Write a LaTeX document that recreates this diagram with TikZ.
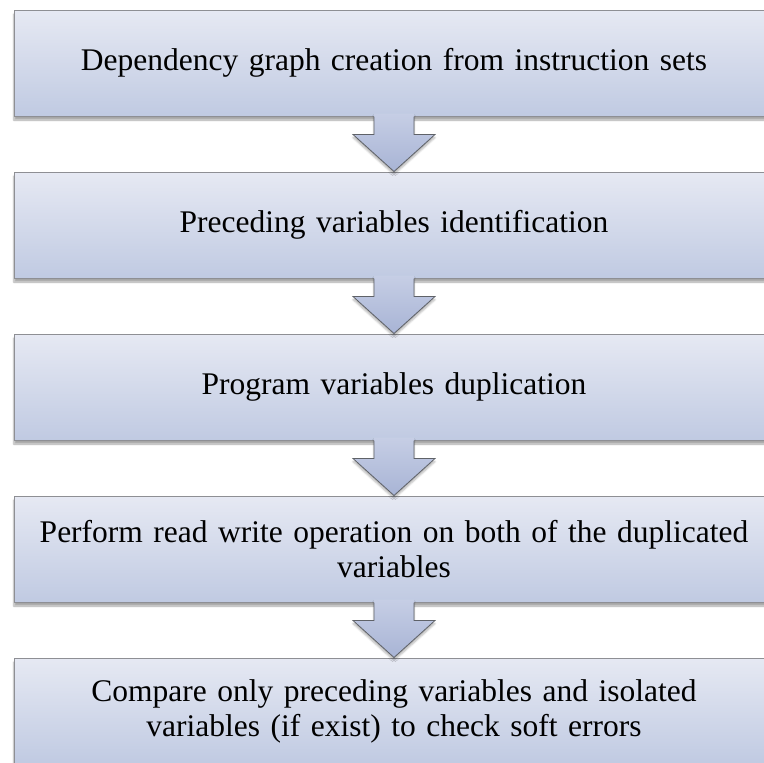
\documentclass[tikz,border=0pt]{standalone}
\usepackage{fontspec}
\setmainfont[WordSpace=0.8]{Liberation Serif}
\usetikzlibrary{calc,shadows.blur}

\definecolor{boxtop}{HTML}{E6E9F3}
\definecolor{boxbottom}{HTML}{C0CAE2}
\definecolor{boxline}{HTML}{8E8F94}
\definecolor{arrowtop}{HTML}{C6CEE5}
\definecolor{arrowbottom}{HTML}{A8B4D5}
\definecolor{arrowline}{HTML}{5F6268}

\tikzset{
  stepbox/.style={
    rectangle, draw=boxline, line width=1pt,
    top color=boxtop, bottom color=boxbottom,
    minimum width=760pt, minimum height=106pt,
    align=center, text width=745pt,
    font=\fontsize{31.5pt}{35pt}\selectfont,
    blur shadow={shadow xshift=0pt, shadow yshift=-4pt,
                 shadow blur steps=6, shadow opacity=35}
  },
  arrowbody/.style={top color=arrowtop, bottom color=arrowbottom},
  arrowedge/.style={draw=arrowline, line width=0.8pt, line join=miter}
}

% block arrow from the bottom of box #1 to the top of box #2
\newcommand{\flowarrow}[2]{%
  \shade[arrowbody, blur shadow={shadow xshift=0pt, shadow yshift=-3pt,
        shadow blur steps=5, shadow opacity=30}]
    ($(#1.south)+(-20,-3)$) -- ($(#1.south)+(-20,18)$)
    -- ($(#1.south)+(-41,18)$) -- (#2.north)
    -- ($(#1.south)+(41,18)$) -- ($(#1.south)+(20,18)$)
    -- ($(#1.south)+(20,-3)$) -- cycle;
  \draw[arrowedge]
    ($(#1.south)+(-20,0)$) -- ($(#1.south)+(-20,18)$)
    -- ($(#1.south)+(-41,18)$) -- (#2.north)
    -- ($(#1.south)+(41,18)$) -- ($(#1.south)+(20,18)$)
    -- ($(#1.south)+(20,0)$);
}

\begin{document}
\begin{tikzpicture}[x=1pt,y=-1pt]
  \useasboundingbox (0,0) rectangle (764,763);
  \clip (0,0) rectangle (764,763);

  \node[stepbox] (b1) at (394,63)
    {Dependency graph creation from instruction sets};
  \node[stepbox] (b2) at (394,225)
    {Preceding variables identification};
  \node[stepbox] (b3) at (394,387)
    {Program variables duplication};
  \node[stepbox] (b4) at (394,549)
    {Perform read write operation on both of the duplicated\\variables};
  \node[stepbox] (b5) at (394,711)
    {Compare only preceding variables and isolated\\variables (if exist) to check soft errors};

  \flowarrow{b1}{b2}
  \flowarrow{b2}{b3}
  \flowarrow{b3}{b4}
  \flowarrow{b4}{b5}
\end{tikzpicture}
\end{document}
